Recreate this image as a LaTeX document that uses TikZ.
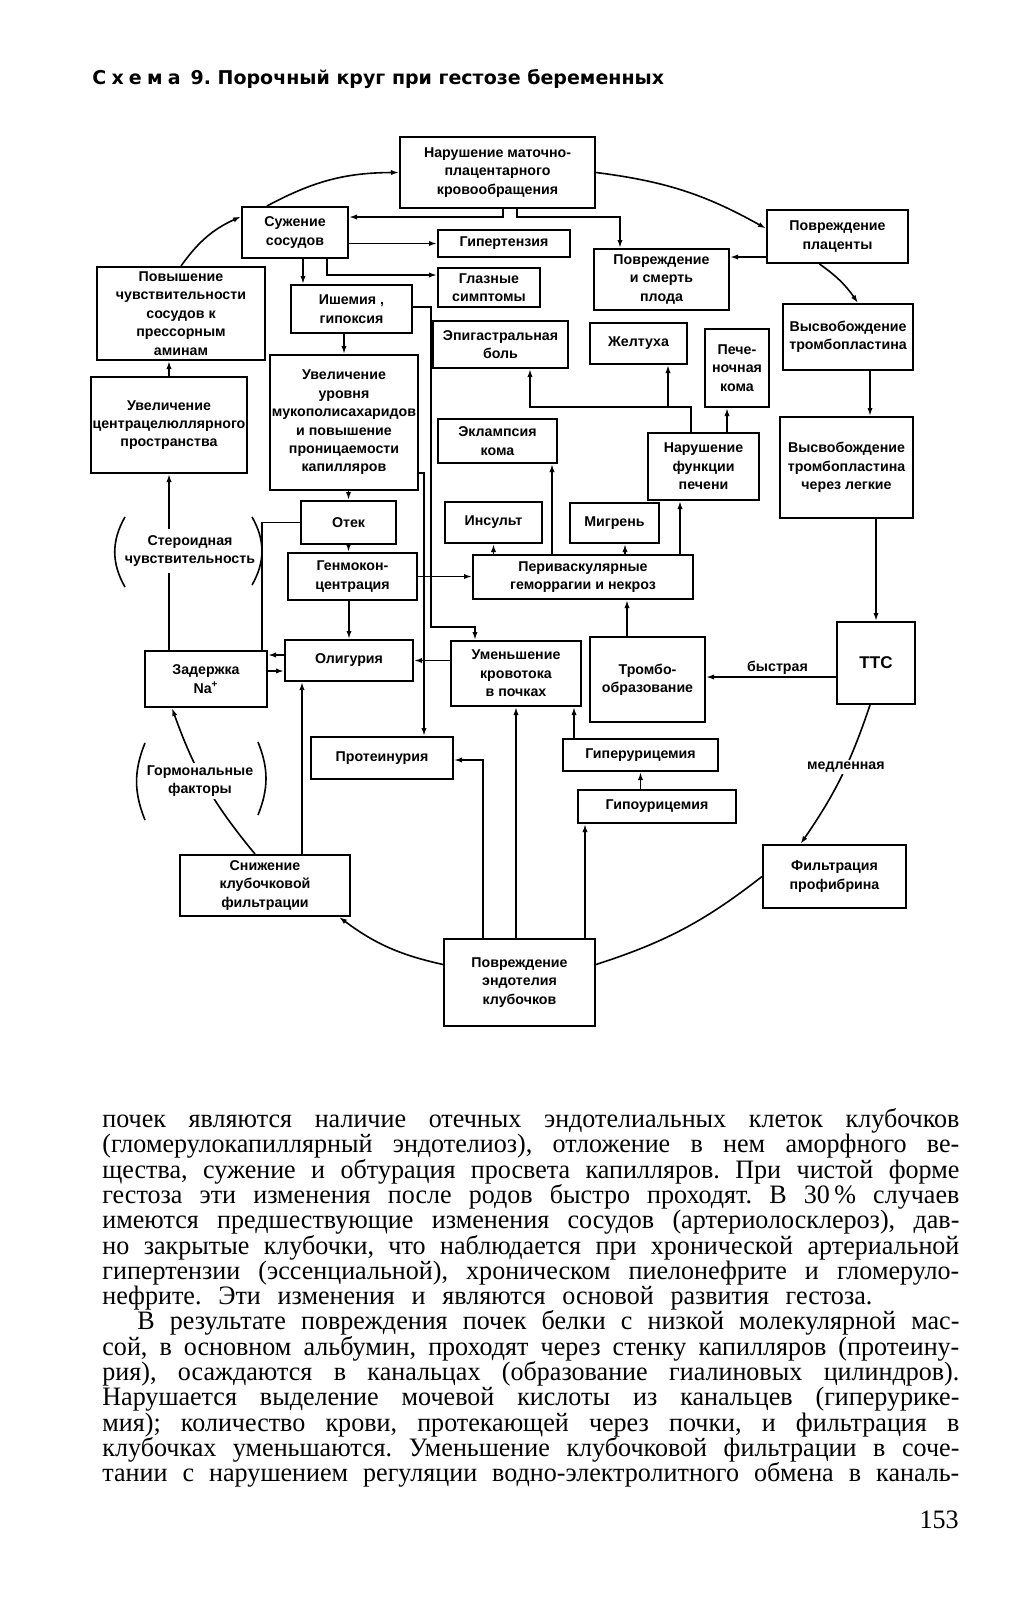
\documentclass[tikz,border=0pt]{standalone}
\usepackage{fontspec}
\setmainfont{Liberation Serif}[FakeStretch=0.98]
\newfontfamily\dgfont{Liberation Sans}
\newfontfamily\ttlfont{DejaVu Sans}
\usetikzlibrary{arrows.meta}
\frenchspacing

\tikzset{
  box/.style={draw, line width=1pt, align=center, inner sep=1pt, font=\dgfont\bfseries\fontsize{7.1}{9.2}\selectfont},
  lbl/.style={align=center, inner sep=1pt, font=\dgfont\bfseries\fontsize{7.1}{9.2}\selectfont},
  arr/.style={line width=0.8pt, -{Latex[length=4pt,width=2.6pt]}},
  wire/.style={line width=0.8pt},
  body/.style={inner sep=0pt, font=\fontsize{13.3}{15}\selectfont},
}
% box by its corners in pixels: name, left, top, right, bottom, text
\newcommand\bx[6]{\node[box, minimum width={(#4-#2)*0.5pt}, minimum height={(#5-#3)*0.5pt}] (#1) at ({(#2+#4)/2},{(#3+#5)/2}) {#6};}

\begin{document}
\begin{tikzpicture}[x=0.5pt, y=-0.5pt]
\useasboundingbox (0,0) rectangle (1029,1600);

\node[anchor=base west, inner sep=0pt, font=\ttlfont\bfseries\fontsize{9.5}{12}\selectfont] (ttl) at (92,85)
  {С\hspace{2.6pt}х\hspace{2.6pt}е\hspace{2.6pt}м\hspace{2.6pt}а\hspace{5pt}9. Порочный круг при гестозе беременных};

% boxes
\bx{nar}{400}{137}{595}{208}{Нарушение маточно-\\плацентарного\\кровообращения}
\bx{suz}{242}{207}{348}{258}{Сужение\\сосудов}
\bx{hyp}{438}{230}{570}{257}{Гипертензия}
\bx{gla}{438}{268}{540}{307}{Глазные\\симптомы}
\bx{pov}{97}{267}{265}{360}{Повышение\\чувствительности\\сосудов к\\прессорным\\аминам}
\bx{ish}{291}{285}{412}{333}{Ишемия ,\\гипоксия}
\bx{epi}{433}{321}{568}{368}{Эпигастральная\\боль}
\bx{pla}{767}{210}{908}{263}{Повреждение\\плаценты}
\bx{plo}{594}{249}{729}{310}{Повреждение\\и смерть\\плода}
\bx{vyt}{783}{304}{913}{370}{Высвобождение\\тромбопластина}
\bx{zhe}{590}{323}{687}{364}{Желтуха}
\bx{pk}{705}{329}{769}{407}{Пече-\\ночная\\кома}
\bx{uvc}{97}{377}{241}{473}{Увеличение\\центрацелюллярного\\пространства}
\bx{uvu}{273}{355}{415}{490}{Увеличение\\уровня\\мукополисахаридов\\и повышение\\проницаемости\\капилляров}
\bx{ekl}{438}{419}{557}{463}{Эклампсия\\кома}
\bx{nfp}{648}{433}{759}{500}{Нарушение\\функции\\печени}
\bx{vyl}{780}{417}{913}{518}{Высвобождение\\тромбопластина\\через легкие}
\bx{otek}{301}{501}{396}{544}{Отек}
\bx{ins}{445}{502}{542}{543}{Инсульт}
\bx{mig}{570}{503}{659}{543}{Мигрень}
\bx{gen}{288}{553}{417}{600}{Генмокон-\\центрация}
\bx{per}{473}{555}{693}{599}{Периваскулярные\\геморрагии и некроз}
\bx{zad}{145}{651}{267}{707}{Задержка\\Na\textsuperscript{+}}
\bx{oli}{285}{640}{413}{681}{Олигурия}
\bx{umk}{451}{641}{581}{706}{Уменьшение\\кровотока\\в почках}
\bx{trm}{590}{637}{705}{722}{Тромбо-\\образование}
\bx{ttc}{837}{622}{915}{704}{\fontsize{8.5}{10}\selectfont ТТС}
\bx{prot}{311}{737}{453}{779}{Протеинурия}
\bx{giper}{563}{739}{718}{771}{Гиперурицемия}
\bx{gipo}{578}{790}{736}{823}{Гипоурицемия}
\bx{sni}{180}{855}{350}{916}{Снижение\\клубочковой\\фильтрации}
\bx{fil}{763}{845}{906}{908}{Фильтрация\\профибрина}
\bx{pe}{444}{939}{595}{1026}{Повреждение\\эндотелия\\клубочков}

\node[lbl, inner sep=3pt] (ster) at (190,551) {Стероидная\\чувствительность};

% bends
\coordinate (jA) at (503,217);
\coordinate (jB1) at (517,217);
\coordinate (jB2) at (620,217);
\coordinate (jC) at (327,275);
\coordinate (jD) at (303,270);
\coordinate (jE1) at (431,307);
\coordinate (jE2) at (431,627);
\coordinate (jE3) at (475,627);
\coordinate (jF) at (424,473);
\coordinate (jG1) at (0,655);
\coordinate (jG2) at (0,671);
\coordinate (jH) at (262,523);
\coordinate (jI) at (0,257);
\coordinate (jJ) at (870,0);
\coordinate (jK) at (0,677);
\coordinate (jL) at (302,0);
\coordinate (jN) at (483,760);
\coordinate (jO) at (585,0);
\coordinate (jQ) at (574,0);
\coordinate (jR) at (627,0);
\coordinate (jS) at (552,0);
\coordinate (jT) at (625,0);
\coordinate (jU) at (680,0);
\coordinate (jV) at (691,407);
\coordinate (jW) at (530,407);
\coordinate (jX) at (668,407);
\coordinate (jY) at (727,0);
\coordinate (jZ) at (169,0);

% the circle
\draw[arr] (pov.north) to[bend left=15] ([yshift=8pt]suz.west);
\draw[arr] ([xshift=-14pt]suz.north) to[bend left=14] (nar.west);
\draw[arr] (nar.east) to[bend left=11] ([yshift=4pt]pla.west);
\draw[arr] ([xshift=-9pt]pla.south) to[bend left=10] ([xshift=5pt]vyt.north);
\draw[arr] (vyt.south -| jJ) -- (vyl.north -| jJ);
\draw[arr] (vyl.south -| ttc.north) -- (ttc.north);
\draw[arr] ([xshift=-3pt]ttc.south) to[bend left=8] node[lbl, fill=white, pos=0.42] (sl) {медленная} ([xshift=-17pt]fil.north);
\draw[wire] (fil.west) to[bend left=10] ([yshift=9pt]pe.east);
\draw[arr] ([yshift=9pt]pe.west) to[bend left=12] ([xshift=37pt]sni.south);
\draw[arr] ([xshift=-5pt]sni.north) to[bend left=10] ([xshift=-17pt]zad.south);
\node[lbl, fill=white] (gorm) at (200,781) {Гормональные\\факторы};
\draw[wire] (zad.north -| jZ) -- (ster.south -| jZ);
\draw[arr] (ster.north -| jZ) -- (uvc.south -| jZ);
\draw[arr] (uvc.north -| jZ) -- (pov.south -| jZ);

% brackets
\draw[wire] (125,517) to[bend right=30] (125,587);
\draw[wire] (252,517) to[bend left=30] (252,585);
\draw[wire] (145,743) to[bend right=22] (145,820);
\draw[wire] (258,742) to[bend left=22] (258,815);

% inside the circle
\draw[arr] (nar.south -| jA) |- (suz.east |- jA);
\draw[arr] (nar.south -| jB1) -- (jB1) -- (jB2) -- (plo.north -| jB2);
\draw[arr] (suz.east |- hyp.west) -- (hyp.west);
\draw[arr] (suz.south -| jC) |- (gla.west |- jC);
\draw[arr] (suz.south -| jD) -- (ish.north -| jD);
\draw[arr] (pla.west |- jI) -- (plo.east |- jI);
\draw[arr] (ish.south -| uvu.north) -- (uvu.north);
\draw[arr] (uvu.south -| otek.north) -- (otek.north);
\draw[arr] (otek.south) -- (otek.south |- gen.north);
\draw[arr] (gen.south -| oli.north) -- (oli.north);
\draw[arr] (gen.east) -- (gen.east -| per.west);
\draw[wire] (otek.west) -| (zad.north -| jH);
\draw[arr] (ish.east |- jE1) -- (jE1) -- (jE2) -- (jE3) -- (umk.north -| jE3);
\draw[arr] (uvu.east |- jF) -- (jF) -- (prot.north -| jF);
\draw[arr] (umk.west |- oli.east) -- (oli.east);
\draw[arr] (oli.west |- jG1) -- (zad.east |- jG1);
\draw[arr] (zad.east |- jG2) -- (oli.west |- jG2);
\draw[arr] (sni.north -| jL) -- (oli.south -| jL);
\draw[arr] (pe.north -| jN) |- (prot.east |- jN);
\draw[arr] (pe.north -| umk.south) -- (umk.south);
\draw[arr] (pe.north -| jO) -- (gipo.south -| jO);
\draw[arr] (gipo.north -| giper.south) -- (giper.south);
\draw[arr] (giper.north -| jQ) -- (umk.south -| jQ);
\draw[arr] (trm.north -| jR) -- (per.south -| jR);
\draw[arr] (ttc.west |- jK) -- node[lbl, above, pos=0.45] (sb) {быстрая} (trm.east |- jK);
\draw[arr] (per.north -| jS) -- (ekl.south -| jS);
\draw[arr] (per.north -| ins.south) -- (ins.south);
\draw[arr] (per.north -| jT) -- (mig.south -| jT);
\draw[arr] (per.north -| jU) -- (nfp.south -| jU);
\draw[arr] (nfp.north -| jV) -- (jV) -- (jW) -- (epi.south -| jW);
\draw[arr] (jX) -- (zhe.south -| jX);
\draw[arr] (nfp.north -| jY) -- (pk.south -| jY);

% text of the page
\node[body, anchor=base west] (t1) at (102,1127) {\makebox[428.5pt][s]{почек являются наличие отечных эндотелиальных клеток клубочков}};
\node[body, anchor=base west] (t2) at (102,1152) {\makebox[428.5pt][s]{(гломерулокапиллярный эндотелиоз), отложение в нем аморфного ве-}};
\node[body, anchor=base west] (t3) at (102,1178) {\makebox[428.5pt][s]{щества, сужение и обтурация просвета капилляров. При чистой форме}};
\node[body, anchor=base west] (t4) at (102,1203) {\makebox[428.5pt][s]{гестоза эти изменения после родов быстро проходят. В 30\,\% случаев}};
\node[body, anchor=base west] (t5) at (102,1228) {\makebox[428.5pt][s]{имеются предшествующие изменения сосудов (артериолосклероз), дав-}};
\node[body, anchor=base west] (t6) at (102,1254) {\makebox[428.5pt][s]{но закрытые клубочки, что наблюдается при хронической артериальной}};
\node[body, anchor=base west] (t7) at (102,1279) {\makebox[428.5pt][s]{гипертензии (эссенциальной), хроническом пиелонефрите и гломеруло-}};
\node[body, anchor=base west] (t8) at (102,1304) {\makebox[385pt][s]{нефрите. Эти изменения и являются основой развития гестоза.}};
\node[body, anchor=base west] (t9) at (137,1329) {\makebox[411pt][s]{В результате повреждения почек белки с низкой молекулярной мас-}};
\node[body, anchor=base west] (t10) at (102,1355) {\makebox[428.5pt][s]{сой, в основном альбумин, проходят через стенку капилляров (протеину-}};
\node[body, anchor=base west] (t11) at (102,1380) {\makebox[428.5pt][s]{рия), осаждаются в канальцах (образование гиалиновых цилиндров).}};
\node[body, anchor=base west] (t12) at (102,1405) {\makebox[428.5pt][s]{Нарушается выделение мочевой кислоты из канальцев (гиперурике-}};
\node[body, anchor=base west] (t13) at (102,1431) {\makebox[428.5pt][s]{мия); количество крови, протекающей через почки, и фильтрация в}};
\node[body, anchor=base west] (t14) at (102,1456) {\makebox[428.5pt][s]{клубочках уменьшаются. Уменьшение клубочковой фильтрации в соче-}};
\node[body, anchor=base west] (t15) at (102,1481) {\makebox[428.5pt][s]{тании с нарушением регуляции водно-электролитного обмена в каналь-}};
\node[body, anchor=base east] (pg) at (959,1528) {153};
\end{tikzpicture}
\end{document}
